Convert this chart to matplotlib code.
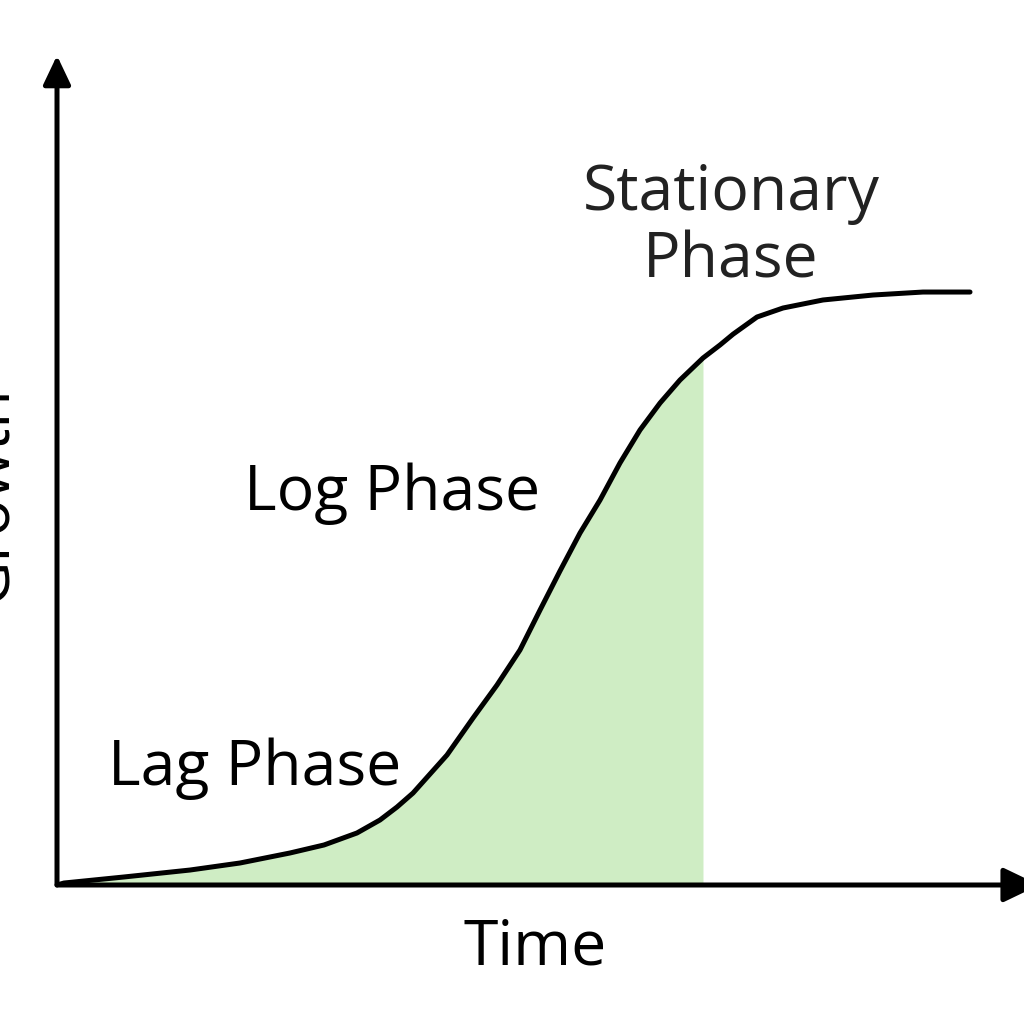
import numpy as np
import matplotlib
matplotlib.use("Agg")
import matplotlib.pyplot as plt

plt.rcParams['font.family'] = ['Open Sans', 'DejaVu Sans']

# growth curve (time, growth in arbitrary units 0-10)
time = [0.0, 0.073, 0.696, 1.381, 1.900, 2.419, 2.773, 3.115, 3.354, 3.531,
        3.697, 4.050, 4.320, 4.569, 4.808, 5.016, 5.223, 5.431, 5.639, 5.846,
        6.054, 6.262, 6.469, 6.708, 6.885, 7.020, 7.269, 7.539, 7.954, 8.474,
        8.993, 9.481]
growth = [0.0, 0.024, 0.097, 0.181, 0.266, 0.387, 0.484, 0.629, 0.786, 0.943,
          1.112, 1.572, 2.019, 2.418, 2.842, 3.325, 3.797, 4.256, 4.655, 5.103,
          5.502, 5.828, 6.106, 6.372, 6.530, 6.660, 6.868, 6.977, 7.074, 7.134,
          7.170, 7.170]
fill_end = 6.708

labels = ["Lag Phase", "Log Phase", "Stationary\nPhase"]
label_pos = [(2.05, 1.40), (3.48, 4.73), (7.0, 7.95)]

fig = plt.figure(figsize=(10.24, 10.24), dpi=100)
ax = fig.add_axes([57 / 1024, 139 / 1024, 963 / 1024, 827 / 1024])
ax.set_xlim(0, 10)
ax.set_ylim(0, 10)
ax.axis('off')

t = np.array(time)
g = np.array(growth)
k = t <= fill_end
ax.fill_between(t[k], 0, g[k], color='#cfedc4', lw=0)
ax.plot(t, g, color='black', lw=3.6, solid_capstyle='round',
        solid_joinstyle='round')

# axes with arrow heads
ax.annotate('', xy=(10.2, 0), xytext=(0, 0), annotation_clip=False,
            arrowprops=dict(arrowstyle='-|>,head_length=1.0,head_width=0.48',
                            lw=3.6, color='black', shrinkA=0, shrinkB=0,
                            mutation_scale=22))
ax.annotate('', xy=(0, 10.03), xytext=(0, 0), annotation_clip=False,
            arrowprops=dict(arrowstyle='-|>,head_length=0.8,head_width=0.38',
                            lw=3.6, color='black', shrinkA=0, shrinkB=0,
                            mutation_scale=22))

for txt, (x, y) in zip(labels, label_pos):
    ax.text(x, y, txt, fontsize=45, ha='center', va='center',
            color='black' if 'Stat' not in txt else '#222222',
            linespacing=1.1)

ax.text(4.96, -0.76, "Time", fontsize=45, ha='center', va='center')
fig.text(22 / 1024, 0.517, "Growth", fontsize=45, rotation=90,
         ha='right', va='center')

fig.savefig('out.png', dpi=100)
